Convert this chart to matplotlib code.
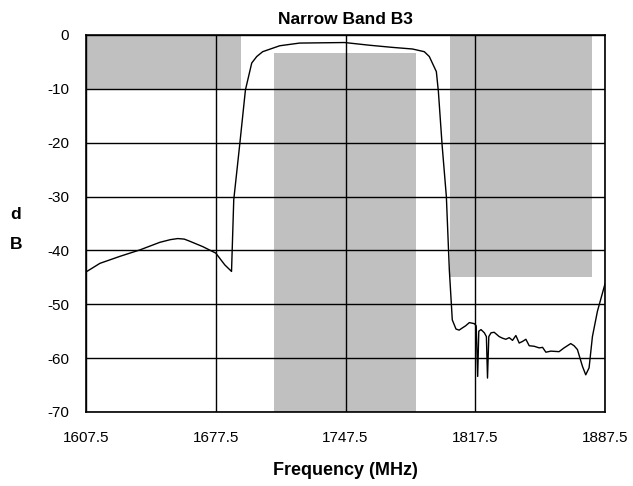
import matplotlib
matplotlib.use("Agg")
import matplotlib.pyplot as plt
from matplotlib.patches import Rectangle

freq = [1607.5, 1615.0, 1625.8, 1636.6, 1647.3, 1653.0, 1657.0, 1660.5, 1663.5,
        1670.5, 1677.5, 1682.4, 1686.0, 1687.2, 1690.4, 1693.5, 1696.9, 1699.6,
        1702.8, 1712.0, 1722.7, 1747.0, 1760.4, 1772.8, 1783.6, 1790.0, 1792.7,
        1796.5, 1797.6, 1799.6, 1801.9, 1803.5, 1805.1, 1807.1, 1808.8, 1810.5,
        1812.3, 1814.3, 1817.0, 1818.0, 1818.8, 1819.4, 1820.6, 1822.4, 1823.5,
        1824.1, 1824.8, 1826.0, 1827.7, 1830.4, 1832.2, 1834.0, 1835.8, 1837.6,
        1839.4, 1841.2, 1843.0, 1844.8, 1846.6, 1849.3, 1852.0, 1853.8, 1855.6,
        1858.3, 1862.7, 1865.4, 1869.0, 1870.8, 1872.6, 1875.3, 1877.1, 1878.9,
        1880.7, 1883.4, 1887.5]
gain = [-44.0, -42.4, -41.1, -39.9, -38.5, -38.0, -37.8, -37.9, -38.3,
        -39.3, -40.5, -42.7, -43.9, -30.6, -20.4, -10.2, -5.2, -4.0,
        -3.1, -2.0, -1.5, -1.4, -1.9, -2.3, -2.6, -3.1, -4.0,
        -6.8, -10.5, -20.4, -30.0, -43.6, -52.9, -54.6, -54.8, -54.4,
        -54.0, -53.4, -53.6, -54.0, -63.4, -55.0, -54.7, -55.3, -56.0,
        -63.7, -56.0, -55.3, -55.2, -56.0, -56.3, -56.5, -56.2, -56.7,
        -55.8, -57.2, -56.9, -56.5, -57.7, -57.8, -58.1, -58.0, -58.9,
        -58.7, -58.8, -58.1, -57.3, -57.7, -58.4, -61.5, -63.1, -61.8,
        -56.0, -51.3, -46.2]

# spec mask regions: (f_start, f_end, top dB, bottom dB)
mask_f0 = [1607.5, 1708.7, 1804.0]
mask_f1 = [1691.0, 1785.7, 1880.4]
mask_top = [0, -3.3, 0]
mask_bot = [-10, -70, -45]

xticks = [1607.5, 1677.5, 1747.5, 1817.5, 1887.5]
yticks = [0, -10, -20, -30, -40, -50, -60, -70]

narrow = ["Liberation Sans Narrow", "Liberation Sans", "DejaVu Sans"]

fig = plt.figure(figsize=(6.33, 4.86), dpi=100)
ax = fig.add_axes([0.1359, 0.1523, 0.8199, 0.7757])

for f0, f1, t, b in zip(mask_f0, mask_f1, mask_top, mask_bot):
    ax.add_patch(Rectangle((f0, b), f1 - f0, t - b, facecolor="#c0c0c0",
                           edgecolor="none", zorder=1))

ax.plot(freq, gain, color="black", lw=1.0, zorder=3)

ax.set_xlim(1607.5, 1887.5)
ax.set_ylim(-70, 0)
ax.set_xticks(xticks)
ax.set_xticklabels([f"{v:.1f}" for v in xticks], family=narrow, fontsize=11)
ax.set_yticks(yticks)
ax.set_yticklabels([str(v) for v in yticks], family=narrow, fontsize=11)
ax.tick_params(length=0, pad=12)
ax.tick_params(axis="x", pad=14)
ax.grid(True, color="black", lw=1.0, zorder=2)
ax.set_axisbelow(False)
for s in ax.spines.values():
    s.set_linewidth(1.2)
    s.set_zorder(4)

ax.set_title("Narrow Band B3", family=narrow, fontweight="bold", fontsize=12.5, pad=8)
ax.set_xlabel("Frequency (MHz)", family=narrow, fontweight="bold", fontsize=13, labelpad=12)
fig.text(0.016, 0.528, "d\n\nB", family=["Liberation Sans", "DejaVu Sans"],
         fontweight="bold", fontsize=12.5, ha="left", va="center", linespacing=1.0)

fig.savefig("out.png", dpi=100)
